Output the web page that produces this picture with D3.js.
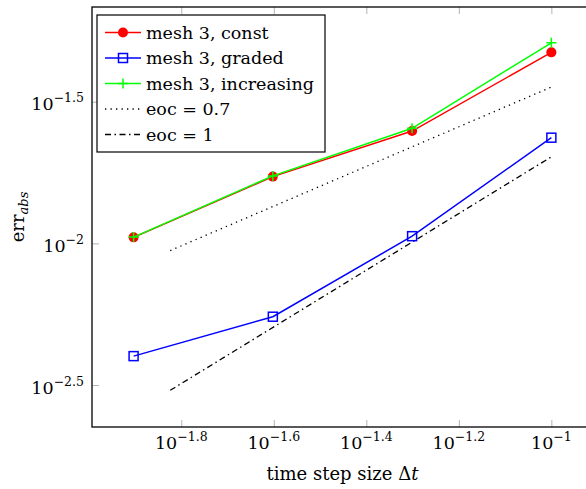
<!DOCTYPE html>
<html><head><meta charset="utf-8">
<script src="https://cdn.jsdelivr.net/npm/d3@7"></script>
<style>body{margin:0;background:#fff}</style>
</head><body>
<svg id="c" width="586" height="489"></svg>
<script>
const dt = [0.0125, 0.025, 0.05, 0.1];
const errConst = [0.0105, 0.0172, 0.0249, 0.0472];
const errGraded = [0.0040, 0.00551, 0.0106, 0.0236];
const errIncreasing = [0.01052, 0.0173, 0.02547, 0.0510];
const eocX = [0.015, 0.1];
const eoc07 = [0.00943, 0.0356];
const eoc1 = [0.00303, 0.0202];
const xTickExp = ["−1.8", "−1.6", "−1.4", "−1.2", "−1"];
const xTickVals = [-1.8, -1.6, -1.4, -1.2, -1];
const yTickExp = ["−2.5", "−2", "−1.5"];
const yTickVals = [-2.5, -2, -1.5];

const FONT = "DejaVu Serif";
const L = 92, R = 593, T = 7, B = 427;
const svg = d3.select("#c");
const x = d3.scaleLog().domain([Math.pow(10, -1.993), Math.pow(10, -0.910)]).range([L, R]);
const y = d3.scaleLog().domain([Math.pow(10, -2.648), Math.pow(10, -1.166)]).range([B, T]);

const tickCol = "#a0a0a0";
function styleAxis(g){ g.select(".domain").remove(); g.selectAll(".tick line").attr("stroke", tickCol).attr("stroke-width", 0.8); g.selectAll(".tick text").remove(); }
const xv = xTickVals.map(v => Math.pow(10, v)), yv = yTickVals.map(v => Math.pow(10, v));
svg.append("g").attr("transform", `translate(0,${B})`).call(d3.axisBottom(x).tickValues(xv).tickSize(-7)).call(styleAxis);
svg.append("g").attr("transform", `translate(0,${T})`).call(d3.axisTop(x).tickValues(xv).tickSize(-7)).call(styleAxis);
svg.append("g").attr("transform", `translate(${L},0)`).call(d3.axisLeft(y).tickValues(yv).tickSize(-7)).call(styleAxis);
svg.append("g").attr("transform", `translate(${R},0)`).call(d3.axisRight(y).tickValues(yv).tickSize(-7)).call(styleAxis);

function txt(g){ return g.append("text").style("font-family", FONT).attr("fill", "#000"); }

// tick labels
xv.forEach((v, i) => {
  const t = txt(svg).attr("x", x(v)).attr("y", 449).attr("text-anchor", "middle").style("font-size", "17.5px");
  t.append("tspan").text("10");
  t.append("tspan").style("font-size", "12.5px").attr("dy", -8).text(xTickExp[i]);
});
yv.forEach((v, i) => {
  const t = txt(svg).attr("x", 84).attr("y", y(v) + 8.5).attr("text-anchor", "end").style("font-size", "17.5px");
  t.append("tspan").text("10");
  t.append("tspan").style("font-size", "12.5px").attr("dy", -8).text(yTickExp[i]);
});

// axis labels
const xl = txt(svg).attr("x", (L + R) / 2).attr("y", 480).attr("text-anchor", "middle").style("font-size", "18px");
xl.append("tspan").text("time step size Δ");
xl.append("tspan").style("font-style", "italic").text("t");
const yl = txt(svg).attr("transform", `translate(24,${(T + B) / 2}) rotate(-90)`).attr("text-anchor", "middle").style("font-size", "18px");
yl.append("tspan").text("err");
yl.append("tspan").style("font-style", "italic").style("font-size", "13px").attr("dy", 4).text("abs");

svg.append("defs").append("clipPath").attr("id", "pc").append("rect").attr("x", L).attr("y", T).attr("width", R - L).attr("height", B - T);
const plot = svg.append("g").attr("clip-path", "url(#pc)");
const line = d3.line().x(d => x(d[0])).y(d => y(d[1]));

// reference lines
plot.append("path").datum(d3.zip(eocX, eoc07)).attr("d", line).attr("fill", "none").attr("stroke", "#000").attr("stroke-width", 1.3).attr("stroke-dasharray", "1.3,4.2");
plot.append("path").datum(d3.zip(eocX, eoc1)).attr("d", line).attr("fill", "none").attr("stroke", "#000").attr("stroke-width", 1.3).attr("stroke-dasharray", "6,3.5,1.5,3.5");

const series = [
  {vals: errGraded, color: "#0000ff", mark: "square"},
  {vals: errConst, color: "#ff0000", mark: "circle"},
  {vals: errIncreasing, color: "#00ff00", mark: "plus"}
];
function drawMark(g, mk, cx, cy, color){
  if (mk === "circle") g.append("circle").attr("cx", cx).attr("cy", cy).attr("r", 5).attr("fill", color);
  else if (mk === "square") g.append("rect").attr("x", cx - 4.5).attr("y", cy - 4.5).attr("width", 9).attr("height", 9).attr("fill", "none").attr("stroke", color).attr("stroke-width", 1.5);
  else g.append("path").attr("d", `M${cx - 5},${cy}H${cx + 5}M${cx},${cy - 5}V${cy + 5}`).attr("stroke", color).attr("stroke-width", 1.5);
}
series.forEach(s => {
  const d = d3.zip(dt, s.vals);
  plot.append("path").datum(d).attr("d", line).attr("fill", "none").attr("stroke", s.color).attr("stroke-width", 1.5);
  d.forEach(p => drawMark(plot, s.mark, x(p[0]), y(p[1]), s.color));
});

// frame
svg.append("rect").attr("x", L).attr("y", T).attr("width", R - L).attr("height", B - T).attr("fill", "none").attr("stroke", "#000").attr("stroke-width", 1.3);

// legend
const lg = svg.append("g");
lg.append("rect").attr("x", 97).attr("y", 15).attr("width", 228).attr("height", 137).attr("fill", "#fff").attr("stroke", "#000").attr("stroke-width", 1.2);
const entries = [
  {label: "mesh 3, const", color: "#ff0000", mark: "circle", dash: null},
  {label: "mesh 3, graded", color: "#0000ff", mark: "square", dash: null},
  {label: "mesh 3, increasing", color: "#00ff00", mark: "plus", dash: null},
  {label: "eoc = 0.7", color: "#000", mark: null, dash: "1.3,4.2"},
  {label: "eoc = 1", color: "#000", mark: null, dash: "6,3.5,1.5,3.5"}
];
entries.forEach((e, i) => {
  const yy = 32.5 + i * 25.5;
  lg.append("line").attr("x1", 105).attr("x2", 141).attr("y1", yy).attr("y2", yy).attr("stroke", e.color).attr("stroke-width", e.mark ? 1.5 : 1.3).attr("stroke-dasharray", e.dash);
  if (e.mark) drawMark(lg, e.mark, 123, yy, e.color);
  txt(lg).attr("x", 146).attr("y", yy + 6).style("font-size", "17.5px").text(e.label);
});
</script>
</body></html>
